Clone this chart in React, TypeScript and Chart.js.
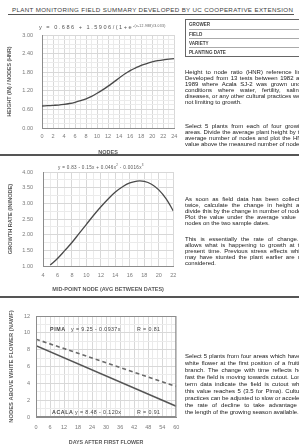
import React, { useEffect, useRef } from "react";
import { Chart, registerables } from "chart.js";
Chart.register(...registerables);

// ---------- DATA ----------
// Panel 1: height-to-node ratio vs nodes
const hnrNodes = [0, 1, 2, 3, 4, 5, 6, 7, 8, 9, 10, 11, 12, 13, 14, 15, 16, 17, 18, 19, 20, 21, 22, 23, 24];
const hnrValues = [0.71, 0.72, 0.73, 0.74, 0.76, 0.79, 0.83, 0.88, 0.94, 1.02, 1.12, 1.23, 1.35, 1.48, 1.61, 1.74, 1.85, 1.94, 2.02, 2.08, 2.13, 2.17, 2.2, 2.22, 2.24];
// Panel 2: growth rate vs mid-point node
const rateNodes = [5, 6, 7, 8, 9, 10, 11, 12, 13, 14, 15, 16, 17, 18, 19, 20, 21, 22];
const rateValues = [1.03, 1.24, 1.49, 1.75, 2.04, 2.33, 2.62, 2.89, 3.14, 3.36, 3.53, 3.65, 3.71, 3.7, 3.61, 3.43, 3.15, 2.76];
// Panel 3: nodes above white flower vs days after first flower
const nawfDays = [0, 60];
const pimaValues = [9.25, 3.63];
const acalaValues = [8.48, 1.28];

const FONT = '"Liberation Sans", Arial, Helvetica, sans-serif';

type AxisSpec = {
  min: number; max: number; step: number; labelEvery: number; decimals: number;
  labelPad: number; title: string; titlePad: number; titleSize: number;
};
type PanelSpec = {
  left: number; top: number; width: number; height: number;
  plotLeft: number; plotRight: number; plotTop: number; plotBottom: number;
  x: AxisSpec; y: AxisSpec; datasets: any[]; box: boolean;
};

function axisOpts(a: AxisSpec, pos: "x" | "y", s: PanelSpec) {
  const major = (v: number) => {
    const k = (v - a.min) / a.labelEvery;
    return Math.abs(k - Math.round(k)) < 1e-6;
  };
  return {
    type: "linear",
    position: pos === "x" ? "bottom" : "left",
    min: a.min,
    max: a.max,
    afterFit: (sc: any) => {
      if (pos === "x") sc.height = s.height - s.plotBottom;
      else sc.width = s.plotLeft;
    },
    ticks: {
      stepSize: a.step,
      autoSkip: false,
      maxRotation: 0,
      minRotation: 0,
      padding: a.labelPad,
      color: "#7a7a7a",
      font: { family: FONT, size: 5.5 },
      callback: (v: any) => (major(Number(v)) ? Number(v).toFixed(a.decimals) : ""),
    },
    grid: {
      drawTicks: false,
      color: (ctx: any) => (ctx.tick && major(ctx.tick.value) ? "#d8d8d8" : "#ebebeb"),
      lineWidth: 1,
    },
    border: { display: true, color: "#8c8c8c", width: 1 },
    title: {
      display: true,
      text: a.title,
      color: "#5a5a5a",
      font: { family: FONT, size: a.titleSize, weight: "bold" },
      padding: pos === "x" ? { top: 0, bottom: a.titlePad } : { top: a.titlePad, bottom: 0 },
    },
  };
}

const boxPlugin = {
  id: "plotBox",
  afterDraw(chart: any, _args: any, opts: any) {
    if (!opts || !opts.on) return;
    const { ctx, chartArea } = chart;
    ctx.save();
    ctx.strokeStyle = "#8c8c8c";
    ctx.lineWidth = 1;
    ctx.strokeRect(chartArea.left + 0.5, chartArea.top + 0.5, chartArea.right - chartArea.left - 1, chartArea.bottom - chartArea.top - 1);
    ctx.restore();
  },
};

function Panel({ spec }: { spec: PanelSpec }) {
  const ref = useRef<HTMLCanvasElement | null>(null);
  useEffect(() => {
    const s = spec;
    const chart = new Chart(ref.current as HTMLCanvasElement, {
      type: "line",
      data: { datasets: s.datasets },
      options: {
        animation: false,
        responsive: false,
        layout: { padding: { left: 0, top: s.plotTop, right: s.width - s.plotRight, bottom: 0 } },
        plugins: {
          legend: { display: false },
          tooltip: { enabled: false },
          plotBox: { on: s.box },
        } as any,
        scales: { x: axisOpts(s.x, "x", s), y: axisOpts(s.y, "y", s) } as any,
      },
      plugins: [boxPlugin],
    } as any);
    return () => chart.destroy();
  }, []);
  return (
    <canvas
      ref={ref}
      width={spec.width}
      height={spec.height}
      style={{ position: "absolute", left: spec.left, top: spec.top, width: spec.width, height: spec.height }}
    />
  );
}

const pts = (xs: number[], ys: number[]) => xs.map((x, i) => ({ x, y: ys[i] }));

const panel1: PanelSpec = {
  left: 0, top: 20, width: 182, height: 137,
  plotLeft: 42, plotRight: 177, plotTop: 15, plotBottom: 108,
  x: { min: 0, max: 24, step: 1, labelEvery: 2, decimals: 0, labelPad: 4.7, title: "NODES", titlePad: 1.7, titleSize: 5.5 },
  y: { min: 0, max: 3, step: 0.15, labelEvery: 0.6, decimals: 2, labelPad: 9, title: "HEIGHT (IN) / NODES (HNR)", titlePad: 6.8, titleSize: 5.3 },
  datasets: [{ data: pts(hnrNodes, hnrValues), borderColor: "#4a4a4a", borderWidth: 1.3, pointRadius: 0, tension: 0.4, fill: false }],
  box: false,
};

const panel2: PanelSpec = {
  left: 0, top: 157, width: 182, height: 140,
  plotLeft: 43, plotRight: 177, plotTop: 15, plotBottom: 109,
  x: { min: 4, max: 22, step: 1, labelEvery: 2, decimals: 0, labelPad: 5.7, title: "MID-POINT NODE (AVG BETWEEN DATES)", titlePad: 4.7, titleSize: 5.5 },
  y: { min: 1, max: 4, step: 0.25, labelEvery: 0.5, decimals: 2, labelPad: 10, title: "GROWTH RATE (IN/NODE)", titlePad: 6.8, titleSize: 5.6 },
  datasets: [{ data: pts(rateNodes, rateValues), borderColor: "#4a4a4a", borderWidth: 1.3, pointRadius: 0, tension: 0.4, fill: false }],
  box: false,
};

const panel3: PanelSpec = {
  left: 0, top: 298, width: 186, height: 150,
  plotLeft: 36, plotRight: 179, plotTop: 18, plotBottom: 119,
  x: { min: 0, max: 60, step: 2, labelEvery: 6, decimals: 0, labelPad: 6.7, title: "DAYS AFTER FIRST FLOWER", titlePad: 2, titleSize: 5.3 },
  y: { min: 0, max: 12, step: 1, labelEvery: 2, decimals: 0, labelPad: 6, title: "NODES ABOVE WHITE FLOWER (NAWF)", titlePad: 8.4, titleSize: 5.8 },
  datasets: [
    { data: pts(nawfDays, pimaValues), borderColor: "#6a6a6a", borderWidth: 1.6, borderDash: [4, 3], pointRadius: 0, fill: false },
    { data: pts(nawfDays, acalaValues), borderColor: "#555555", borderWidth: 1.6, pointRadius: 0, fill: false },
  ],
  box: true,
};

// ---------- TEXT ----------
const para1 = [
  "Height to node ratio (HNR) reference line.",
  "Developed from 13 tests between 1982 and",
  "1989 where Acala SJ-2 was grown under",
  "conditions where water, fertility, salinity,",
  "diseases, or any other cultural practices were",
  "not limiting to growth.",
];
const para2 = [
  "Select 5 plants from each of four growing",
  "areas. Divide the average plant height by the",
  "average number of nodes and plot the HNR",
  "value above the measured number of nodes.",
];
const para3 = [
  "As soon as field data has been collected",
  "twice, calculate the change in height and",
  "divide this by the change in number of nodes.",
  "Plot the value under the average value for",
  "nodes on the two sample dates.",
];
const para4 = [
  "This is essentially the rate of change. It",
  "allows what is happening to growth at the",
  "present time. Previous stress effects which",
  "may have stunted the plant earlier are not",
  "considered.",
];
const para5 = [
  "Select 5 plants from four areas which have a",
  "white flower at the first position of a fruiting",
  "branch. The change with time reflects how",
  "fast the field is moving towards cutout. Long-",
  "term data indicate the field is cutout when",
  "this value reaches 5 (3.5 for Pima). Cultural",
  "practices can be adjusted to slow or accelerate",
  "the rate of decline to take advantage of",
  "the length of the growing season available.",
];
const formRows = ["GROWER", "FIELD", "VARIETY", "PLANTING DATE"];

function Para({ lines, top, lh }: { lines: string[]; top: number; lh: number }) {
  return (
    <div style={{ position: "absolute", left: 185, top, width: 121, fontSize: 6, lineHeight: lh + "px", color: "#1a1a1a", whiteSpace: "nowrap" }}>
      {lines.map((l, i) => (
        <div key={i} style={{ textAlign: "justify", textAlignLast: i === lines.length - 1 ? "left" : "justify", height: lh } as any}>
          {l}
        </div>
      ))}
    </div>
  );
}

function T({ x, y, size, children, color = "#444", bold = false, ls = 0 }: any) {
  return (
    <div style={{ position: "absolute", left: x, top: y - size / 2, fontSize: size, lineHeight: size + "px", color, fontWeight: bold ? "bold" : "normal", letterSpacing: ls, whiteSpace: "nowrap" }}>
      {children}
    </div>
  );
}

export default function App() {
  return (
    <div style={{ position: "absolute", left: 0, top: 0, width: 299, height: 448, overflow: "hidden", background: "#fff", fontFamily: FONT }}>
      <Panel spec={panel1} />
      <Panel spec={panel2} />
      <Panel spec={panel3} />

      {/* header */}
      <T x={12} y={10} size={6.2} color="#3c3c3c" ls={0.35}>PLANT MONITORING FIELD SUMMARY DEVELOPED BY UC COOPERATIVE EXTENSION</T>
      <div style={{ position: "absolute", left: 8, top: 14, width: 286, height: 1, background: "#555" }} />

      {/* equations */}
      <T x={39} y={27} size={5.6} color="#555" ls={1.5}>
        y = 0.686 + 1.5906/(1+e<span style={{ fontSize: 3.4, verticalAlign: 2, letterSpacing: 0.3 }}>-(x-12.988)/3.033)</span>
      </T>
      <T x={58} y={165} size={4.6} color="#555" ls={0.3}>
        y = 0.83 - 0.15x + 0.046x<sup style={{ fontSize: 3 }}>2</sup> - 0.0016x<sup style={{ fontSize: 3 }}>3</sup>
      </T>
      <T x={50} y={330} size={5.3} color="#444" bold ls={0.6}>PIMA</T>
      <T x={71} y={330} size={5.3} color="#444" ls={0.4}>y = 9.25 - 0.0937x</T>
      <T x={137} y={330} size={5.3} color="#444" ls={0.4}>R = 0.81</T>
      <T x={52} y={413} size={5.3} color="#444" bold ls={0.6}>ACALA</T>
      <T x={75} y={413} size={5.3} color="#444" ls={0.4}>y = 8.48 - 0.120x</T>
      <T x={137} y={413} size={5.3} color="#444" ls={0.4}>R = 0.91</T>

      {/* separators */}
      <div style={{ position: "absolute", left: 0, top: 154, width: 299, height: 2, background: "#555" }} />
      <div style={{ position: "absolute", left: 0, top: 296, width: 299, height: 2, background: "#555" }} />

      {/* form box */}
      <div style={{ position: "absolute", left: 185, top: 19, width: 130, height: 36, borderLeft: "1px solid #666", borderTop: "1px solid #666", borderBottom: "1px solid #666" }}>
        {formRows.map((r, i) => (
          <div key={r} style={{ position: "absolute", left: 3, top: i * 9, height: 9, width: 127, borderTop: i > 0 ? "1px solid #aaa" : "none", fontSize: 4.6, lineHeight: "9px", fontWeight: "bold", color: "#444", boxSizing: "border-box" }}>
            {r}
          </div>
        ))}
      </div>

      <Para lines={para1} top={69} lh={6} />
      <Para lines={para2} top={123} lh={6} />
      <Para lines={para3} top={196} lh={6.1} />
      <Para lines={para4} top={236} lh={6.1} />
      <Para lines={para5} top={353} lh={7} />
    </div>
  );
}
